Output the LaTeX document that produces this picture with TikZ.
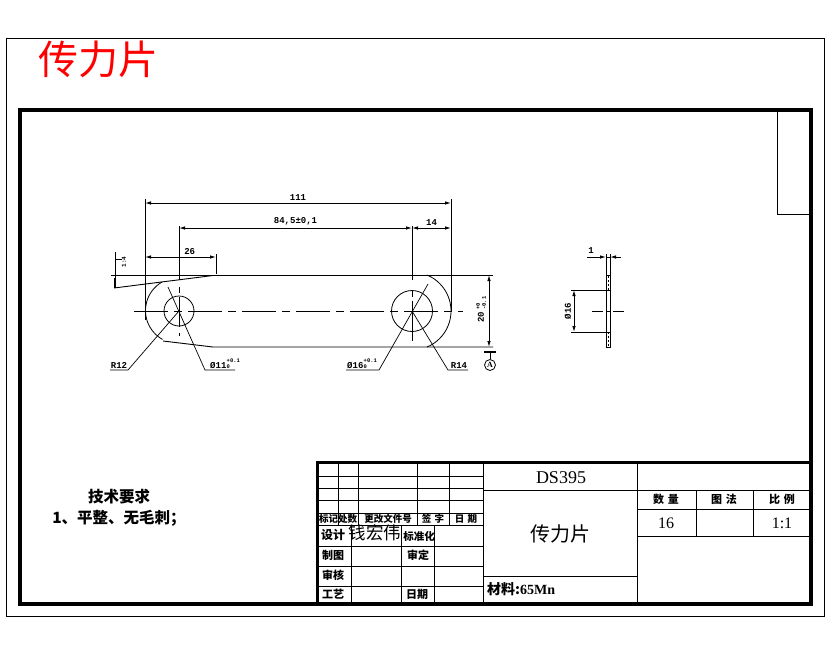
\documentclass[tikz,border=0pt]{standalone}
\usepackage{fontspec}
\setmainfont{Liberation Serif}
\setmonofont{Liberation Mono}
\newfontfamily\cjk{Noto Sans CJK SC}
\usetikzlibrary{arrows.meta}
\tikzset{
  thin line/.style={line width=.8pt},
  thick frame/.style={line width=3.6pt},
  dim/.style={line width=.9pt,{Latex[length=6pt,width=3.5pt]}-{Latex[length=6pt,width=3.5pt]}},
  lead/.style={line width=.7pt},
  center line/.style={line width=.9pt,dash pattern=on 34pt off 6pt on 8pt off 6pt},
  num/.style={font=\ttfamily\bfseries\fontsize{9}{9}\selectfont,inner sep=0pt},
  tol/.style={font=\ttfamily\bfseries\fontsize{5.5}{5.5}\selectfont,inner sep=0pt},
  big/.style={font=\fontsize{16}{16}\selectfont,inner sep=0pt},
  hz/.style={font=\cjk\bfseries\fontsize{#1}{#1}\selectfont,inner sep=0pt},
  hz/.default=12
}
\begin{document}
\begin{tikzpicture}[x=1pt,y=-1pt]
  \useasboundingbox (0,0) rectangle (830,654);
  \fill[white] (0,0) rectangle (830,654);
  % frames
  \draw[line width=.9pt] (6,38) rectangle (824,616);
  \draw[thick frame] (20,110) rectangle (811,604);
  \draw[line width=1pt] (777,110) -- (777,214) -- (811,214);
  \node[font=\cjk\fontsize{40}{40}\selectfont,text=red,inner sep=0pt] (title) at (98,59) {传力片};
  % the plate
  \coordinate (LC) at (179,311);
  \coordinate (RC) at (412,311);
  \node[circle,draw,line width=.8pt,minimum size=30pt,inner sep=0pt] (lhole) at (LC) {};
  \node[circle,draw,line width=.8pt,minimum size=41pt,inner sep=0pt] (rhole) at (RC) {};
  \draw[thin line] (162,282) arc[start angle=120,end angle=241,radius=33pt];
  \draw[thin line] (427,275) arc[start angle=67.4,end angle=-67.4,radius=39pt];
  \draw[line width=.9pt] (111,275) -- (493,275);
  \draw[line width=.9pt] (114,288) -- (213,275.5);
  \draw[line width=.9pt] (163,341) -- (213,347) -- (493,347);
  \draw[center line] (134,311) -- (463,311);
  \draw[line width=.9pt,dash pattern=on 6pt off 4pt on 30pt] (179,287) -- (179,336);
  \draw[line width=.9pt,dash pattern=on 6pt off 4pt on 40pt] (412,291) -- (412,341);
  % extension lines
  \draw[line width=.9pt] (145,199) -- (145,320);
  \draw[line width=.9pt] (451,199) -- (451,311);
  \draw[line width=.9pt] (179,226) -- (179,280);
  \draw[line width=.9pt] (412,226) -- (412,280);
  \draw[line width=.9pt] (216,254) -- (216,274);
  % dimensions
  \coordinate (a1) at (145,203);
  \coordinate (a2) at (451,203);
  \draw[dim] (a1) -- (a2) node[num,midway,above=2pt] (d111) {111};
  \coordinate (b1) at (179,228);
  \coordinate (b2) at (412,228);
  \draw[dim] (b1) -- (b2) node[num,pos=.5,above=2pt] (d845) {84,5±0,1};
  \coordinate (c2) at (451,228);
  \draw[dim] (b2) -- (c2) node[num,midway,above=2pt] (d14) {14};
  \coordinate (e1) at (145,257);
  \coordinate (e2) at (216,257);
  \draw[dim] (e1) -- (e2) node[num,pos=.63,above=2pt] (d26) {26};
  % taper mark
  \draw[line width=.9pt] (115,252) -- (115,288);
  \draw[line width=2pt] (114.5,278) -- (114.5,288);
  \draw[line width=.9pt] (115,259) -- (122,259);
  \node[num,rotate=90,font=\ttfamily\bfseries\fontsize{6}{6}\selectfont] (taper) at (124,262) {1:4};
  % leaders
  \coordinate (r12a) at (110,370);
  \coordinate (r12b) at (128,370);
  \draw[lead] (r12a) -- (r12b) -- (LC);
  \node[num,anchor=south] (r12) at (119,369) {R12};
  \coordinate (h11a) at (168,287);
  \coordinate (h11b) at (205,370);
  \coordinate (h11c) at (235,370);
  \draw[lead] (h11a) -- (h11b) -- (h11c);
  \node[num,anchor=south west] (h11) at (210,369) {Ø11};
  \node[tol,anchor=west] (h11u) at (226.5,361) {+0.1};
  \node[tol,anchor=west] (h11l) at (226.5,366.5) {0};
  \coordinate (h16a) at (428,284);
  \coordinate (h16b) at (379,370);
  \coordinate (h16c) at (346,370);
  \draw[lead] (h16a) -- (h16b) -- (h16c);
  \node[num,anchor=south west] (h16) at (347,369) {Ø16};
  \node[tol,anchor=west] (h16u) at (363.5,361) {+0.1};
  \node[tol,anchor=west] (h16l) at (363.5,366.5) {0};
  \coordinate (r14a) at (448,370);
  \coordinate (r14b) at (468,370);
  \draw[lead] (RC) -- (r14a) -- (r14b);
  \node[num,anchor=south] (r14) at (459,369) {R14};
  % height and datum
  \coordinate (f1) at (489,275);
  \coordinate (f2) at (489,347);
  \draw[dim] (f1) -- (f2);
  \node[num,rotate=90] (d20) at (481,317) {20};
  \node[tol,rotate=90,anchor=west] (d20u) at (478,310) {+0};
  \node[tol,rotate=90,anchor=west] (d20l) at (484,310) {-0.1};
  \coordinate (g1) at (490,352);
  \draw[line width=2.4pt] (484,352) -- (496,352);
  \node[circle,draw,line width=.8pt,minimum size=11pt,inner sep=0pt,font=\bfseries\fontsize{8}{8}\selectfont] (datum) at (490,365) {A};
  \draw[line width=.9pt] (g1) -- (datum);
  % side view
  \draw[line width=.9pt] (606,275) rectangle (610,347);
  \draw[line width=.7pt,dash pattern=on 2pt off 2pt] (608,276) -- (608,290) (608,332) -- (608,346);
  \draw[line width=.9pt] (571,290) -- (610,290);
  \draw[line width=.9pt] (571,332) -- (610,332);
  \draw[line width=.9pt] (592,311) -- (603,311) (606,311) -- (610,311) (613,311) -- (624,311);
  \draw[line width=.9pt] (606,254) -- (606,275) (610,254) -- (610,275);
  \coordinate (s1) at (574,290);
  \coordinate (s2) at (574,332);
  \draw[dim] (s1) -- (s2);
  \node[num,rotate=90] (d16) at (568,311) {Ø16};
  \coordinate (t0) at (587,257);
  \coordinate (t1) at (606,257);
  \coordinate (t2) at (610,257);
  \coordinate (t3) at (621,257);
  \draw[line width=.9pt,-{Latex[length=6pt,width=3.5pt]}] (t0) -- (t1);
  \draw[line width=.9pt,-{Latex[length=6pt,width=3.5pt]}] (t3) -- (t2);
  \draw[line width=.9pt] (t1) -- (t2);
  \node[num] (d1) at (591,251) {1};
  % notes
  \node[hz=15.5] (req) at (119,497) {技术要求};
  \node[hz=15.5] (req1) at (119,518) {1、平整、无毛刺；};
  % title block
  \draw[thick frame,line width=3pt] (317.5,462) rectangle (811,604);
  \foreach \yy in {476,488,500,513,525,546,566,586} \draw[thin line] (317,\yy) -- (483,\yy);
  \foreach \xx in {338,358,417,449} \draw[thin line] (\xx,462) -- (\xx,525);
  \draw[thin line] (351,525) -- (351,604);
  \draw[thin line] (401,525) -- (401,604);
  \draw[thin line] (434,525) -- (434,604);
  \draw[thin line] (483,462) -- (483,604);
  \draw[thin line] (637,462) -- (637,604);
  \draw[thin line] (483,490) -- (811,490);
  \draw[thin line] (483,576) -- (637,576);
  \draw[thin line] (637,509) -- (811,509);
  \draw[thin line] (637,536) -- (811,536);
  \draw[thin line] (696,490) -- (696,536);
  \draw[thin line] (753,490) -- (753,536);
  \node[hz=9.5] (h1) at (338,519) {标记处数};
  \node[hz=9.5] (h2) at (388,519) {更改文件号};
  \node[hz=9.5] (h3) at (433,519) {签\,\,字};
  \node[hz=9.5] (h4) at (466,519) {日\,\,期};
  \node[hz=12] (b1t) at (333,535) {设计};
  \node[font=\cjk\fontsize{17.5}{17.5}\selectfont,inner sep=0pt] (name) at (375,533) {钱宏伟};
  \node[hz=10.5] (b2t) at (419,536) {标准化};
  \node[hz=11] (b3t) at (333,555) {制图};
  \node[hz=11] (b4t) at (418,555) {审定};
  \node[hz=11] (b5t) at (333,575) {审核};
  \node[hz=11] (b6t) at (333,594) {工艺};
  \node[hz=11] (b7t) at (417,594) {日期};
  \node[big,font=\fontsize{18}{18}\selectfont] (code) at (561,478) {DS395};
  \node[font=\cjk\fontsize{20}{20}\selectfont,inner sep=0pt] (part) at (560,534) {传力片};
  \node[hz=14,anchor=west] (mat) at (487,589) {材料:{\rmfamily 65Mn}};
  \node[hz=11] (q1) at (666,499) {数\,\,量};
  \node[hz=11] (q2) at (724,499) {图\,\,法};
  \node[hz=11] (q3) at (782,499) {比\,\,例};
  \node[big] (q4) at (666,523) {16};
  \node[big] (q5) at (782,523) {1:1};
\end{tikzpicture}
\end{document}
